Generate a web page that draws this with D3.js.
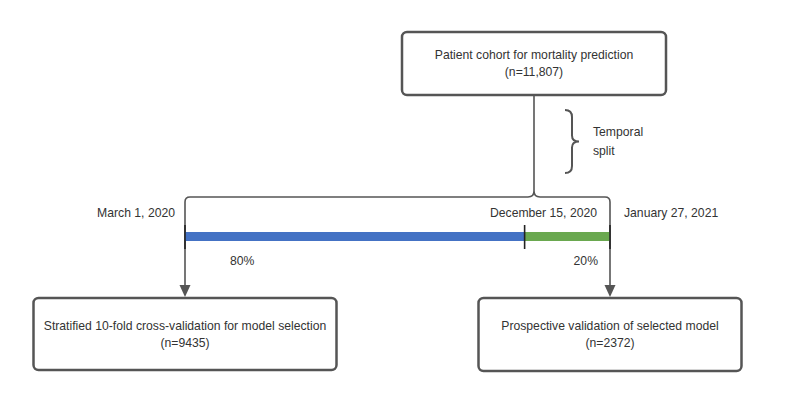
<!DOCTYPE html>
<html><head><meta charset="utf-8">
<script src="https://cdn.jsdelivr.net/npm/d3@7"></script>
<style>body{margin:0;background:#fff}svg{display:block}text{font-family:"Liberation Sans",Arial,sans-serif;fill:#333}</style>
</head><body><svg id="c" width="800" height="403"></svg>
<script>
const cohortLabel = ["Patient cohort for mortality prediction", "(n=11,807)"];
const splitLabel = ["Temporal", "split"];
const cohorts = ["Stratified 10-fold cross-validation for model selection", "Prospective validation of selected model"];
const cohortN = [9435, 2372];
const dateLabels = ["March 1, 2020", "December 15, 2020", "January 27, 2021"];
const shareLabels = ["80%", "20%"];
const segColors = ["#4472c4", "#6aa84f"];

const total = d3.sum(cohortN);
const svg = d3.select("#c");
const line = "#555";
const fs = 12.2;

const x = d3.scaleLinear().domain([0, total]).range([185, 610]);
const cum = [0, cohortN[0], total];

function box(cx, y, w, h, lines) {
  svg.append("rect").attr("x", cx - w/2).attr("y", y).attr("width", w).attr("height", h)
    .attr("rx", 5).attr("fill", "#fff").attr("stroke", line).attr("stroke-width", 2.5);
  lines.forEach((t, i) => {
    svg.append("text").attr("x", cx).attr("y", y + h/2 - 3 + (i - (lines.length-1)/2) * 17 + 4)
      .attr("text-anchor", "middle").attr("dominant-baseline", "middle").attr("font-size", fs).text(t);
  });
}

// top box
const topCx = 534;
box(topCx, 32, 264, 63, cohortLabel);

// connectors
const hy = 197, leftX = x(0), rightX = x(total), arrowTip = 297;
const p = d3.path();
p.moveTo(topCx, 95); p.lineTo(topCx, 191);
p.quadraticCurveTo(topCx, hy, topCx - 6, hy);
p.lineTo(leftX + 5, hy); p.quadraticCurveTo(leftX, hy, leftX, hy + 5);
p.lineTo(leftX, arrowTip - 10);
p.moveTo(topCx, 191);
p.quadraticCurveTo(topCx, hy, topCx + 6, hy);
p.lineTo(rightX - 5, hy); p.quadraticCurveTo(rightX, hy, rightX, hy + 5);
p.lineTo(rightX, arrowTip - 10);
svg.append("path").attr("d", p.toString()).attr("fill", "none").attr("stroke", line).attr("stroke-width", 1.6);
[leftX, rightX].forEach(ax => {
  svg.append("path").attr("d", `M${ax-5.5},${arrowTip-12}L${ax+5.5},${arrowTip-12}L${ax},${arrowTip}Z`).attr("fill", line);
});

// curly brace
const bx = 565, by0 = 110, by1 = 173, bm = (by0+by1)/2;
svg.append("path").attr("d",
  `M${bx},${by0} Q${bx+7},${by0} ${bx+7},${by0+7} L${bx+7},${bm-6} Q${bx+7},${bm} ${bx+14},${bm} Q${bx+7},${bm} ${bx+7},${bm+6} L${bx+7},${by1-7} Q${bx+7},${by1} ${bx},${by1}`)
  .attr("fill", "none").attr("stroke", line).attr("stroke-width", 2);
splitLabel.forEach((t, i) => svg.append("text").attr("x", 593).attr("y", 136 + i * 19).attr("font-size", fs).text(t));

// timeline bar
const barY = 232, barH = 9;
svg.selectAll("rect.seg").data(cohortN).enter().append("rect").attr("class", "seg")
  .attr("x", (d, i) => x(cum[i])).attr("width", (d, i) => x(cum[i+1]) - x(cum[i]))
  .attr("y", barY).attr("height", barH).attr("fill", (d, i) => segColors[i]);
svg.selectAll("line.tk").data(cum).enter().append("line").attr("class", "tk")
  .attr("x1", d => x(d)).attr("x2", d => x(d)).attr("y1", 225).attr("y2", 249)
  .attr("stroke", "#222").attr("stroke-width", 1.6);

// date labels
svg.append("text").attr("x", x(0) - 10).attr("y", 217).attr("text-anchor", "end").attr("font-size", fs).text(dateLabels[0]);
svg.append("text").attr("x", x(total) - 13).attr("y", 217).attr("text-anchor", "end").attr("font-size", fs).text(dateLabels[1]);
svg.append("text").attr("x", x(total) + 14).attr("y", 217).attr("text-anchor", "start").attr("font-size", fs).text(dateLabels[2]);

// share labels
svg.append("text").attr("x", x(0) + 45).attr("y", 265).attr("font-size", fs).text(shareLabels[0]);
svg.append("text").attr("x", x(total) - 12).attr("y", 265).attr("text-anchor", "end").attr("font-size", fs).text(shareLabels[1]);

// bottom boxes
box(leftX, 298, 303, 72, [cohorts[0], `(n=${cohortN[0]})`]);
box(rightX, 298, 263, 73, [cohorts[1], `(n=${cohortN[1]})`]);
</script></body></html>
